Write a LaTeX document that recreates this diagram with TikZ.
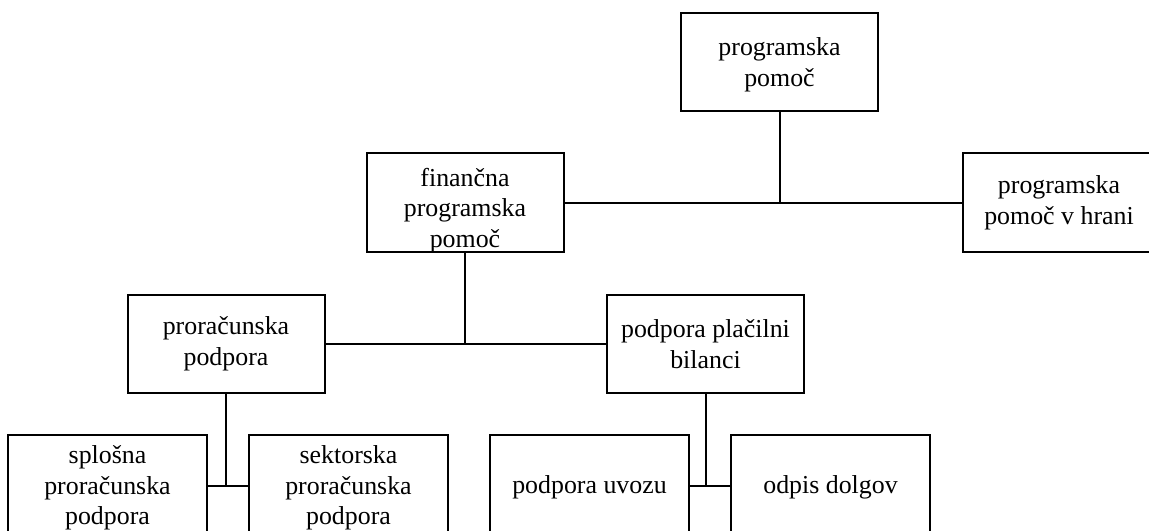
\documentclass[tikz,border=0pt]{standalone}
\usepackage{fontspec}
\setmainfont{Liberation Serif}
\newcommand{\toppad}[1]{\rule{0pt}{#1}}
\begin{document}
\begin{tikzpicture}[x=0.75pt,y=-0.75pt,
  txt/.style={align=center,inner sep=0pt,font=\fontsize{19.4}{23}\selectfont},
  box/.style={txt,draw=black,line width=1.5pt,fill=white},
  wide/.style={box,minimum width=147.75pt,minimum height=73.5pt},
  leaf/.style={box,minimum width=149pt,minimum height=77pt},
  link/.style={draw=black,line width=1.5pt}]
\useasboundingbox (0,0) rectangle (1149,531);
\clip (0,0) rectangle (1149,531);

% top level
\node[wide] (pp) at (779.5,62.5) {\toppad{17pt}programska\\pomoč};
\node[wide] (fin) at (465,202.5) {};
\node[txt] (fintext) at ([yshift=-6pt]fin.center) {finančna\\programska\\pomoč};
\node[box,minimum width=144pt,minimum height=73.5pt] (hrana) at (1059,202.5) {programska\\pomoč v hrani};

% second level
\node[wide] (pror) at (226,344) {proračunska\\podpora};
\node[wide] (plac) at (705.5,344) {podpora plačilni\\bilanci};

% third level
\node[leaf] (splo) at (107.5,486) {\toppad{16.5pt}splošna\\proračunska\\podpora};
\node[leaf] (sekt) at (348.5,486) {\toppad{16.5pt}sektorska\\proračunska\\podpora};
\node[leaf] (uvoz) at (589.5,486) {\toppad{16pt}podpora uvozu};
\node[leaf] (odpis) at (830.5,486) {\toppad{16pt}odpis dolgov};

% connectors
\draw[link] (pp.south) -- (pp.south |- fin.east);
\draw[link] (fin.east) -- (hrana.west);
\draw[link] (fin.south) -- (fin.south |- pror.east);
\draw[link] (pror.east) -- (plac.west);
\draw[link] (pror.south) -- (pror.south |- splo.east);
\draw[link] (splo.east) -- (sekt.west);
\draw[link] (plac.south) -- (plac.south |- uvoz.east);
\draw[link] (uvoz.east) -- (odpis.west);
\end{tikzpicture}
\end{document}
